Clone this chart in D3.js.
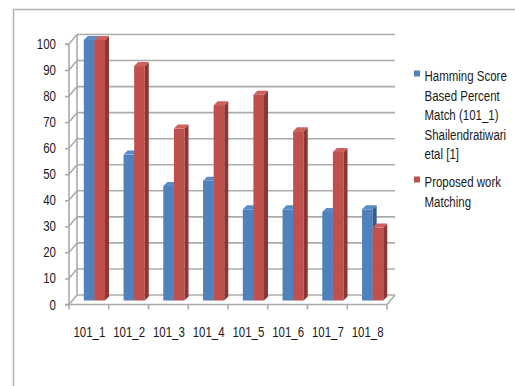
<!DOCTYPE html>
<html><head><meta charset="utf-8">
<script src="https://cdn.jsdelivr.net/npm/d3@7/dist/d3.min.js"></script>
<style>
html,body{margin:0;padding:0;background:#fff;}
svg{display:block;}
text{font-family:"Liberation Sans",Arial,sans-serif;fill:#1a1a1a;font-size:14px;}
</style></head>
<body>
<script>
const categories = ["101_1","101_2","101_3","101_4","101_5","101_6","101_7","101_8"];
const hammingValues = [100,56,44,46,35,35,34,35];
const proposedValues = [100,90,66,75,79,65,57,28];
const yTicks = [0,10,20,30,40,50,60,70,80,90,100];
const legendLabels = [
  ["Hamming Score","Based Percent","Match (101_1)","Shailendratiwari","etal [1]"],
  ["Proposed work","Matching"]
];

const W = 515, H = 386;
const SX = 0.82; // narrow text
const svg = d3.select("body").append("svg").attr("width", W).attr("height", H);

function narrowText(sel, tx, ty, anchor, str) {
  return sel.append("text")
    .attr("transform", `translate(${tx},${ty}) scale(${SX},1)`)
    .attr("text-anchor", anchor).text(str);
}

// chart area border
svg.append("path").attr("d", `M13.5,${H}V9.5H${W}`).attr("fill","none").attr("stroke","#b4b4b4").attr("stroke-width",1.5);

const x = d3.scaleBand().domain(categories).range([69, 387]).paddingInner(0).paddingOuter(0);
const y = d3.scaleLinear().domain([0,100]).range([304.5, 44]);
const DX = 8, DY = -9.5;          // wall depth
const BX = 4, BY = -4;            // bar plane offset (mid depth)
const bd = 4;                     // bar depth

const grid = svg.append("g").attr("stroke","#ababab").attr("stroke-width",1.6).attr("fill","none");
yTicks.forEach(t => {
  grid.append("line").attr("x1", 69+DX).attr("x2", 387+DX).attr("y1", y(t)+DY).attr("y2", y(t)+DY);
  grid.append("line").attr("x1", 69).attr("x2", 69+DX).attr("y1", y(t)).attr("y2", y(t)+DY);
});
grid.append("line").attr("x1", 69+DX).attr("x2", 69+DX).attr("y1", y(0)+DY).attr("y2", y(100)+DY);
grid.append("path").attr("d", `M69,${y(0)}H387L${387+DX},${y(0)+DY}`);

// y axis (front)
const yAxis = d3.axisLeft(y).tickValues(yTicks).tickSize(4).tickFormat(() => "");
const ya = svg.append("g").attr("transform","translate(69,0)").call(yAxis);
ya.select(".domain").attr("stroke","#ababab").attr("stroke-width",1.6).attr("d", `M-4,${y(100)}H0V${y(0)}H-4`);
ya.selectAll(".tick line").attr("stroke","#ababab").attr("stroke-width",1.6);
const yl = svg.append("g");
yTicks.forEach(t => narrowText(yl, 56, y(t) + 5, "end", d3.format("d")(t)));

// x axis ticks and labels
const xg = svg.append("g");
const xticks = categories.map(c => x(c)).concat([387]);
xg.selectAll("line").data(xticks).join("line")
  .attr("x1", d=>d).attr("x2", d=>d).attr("y1", y(0)).attr("y2", y(0)+5)
  .attr("stroke","#ababab").attr("stroke-width",1.6);
categories.forEach(c => narrowText(xg, x(c) + x.bandwidth()/2 + 0.5, 337, "middle", c));

// bars
const bw = 10.6, off = 10.8;
const series = [
  {vals: hammingValues, front:"#4f81bd", top:"#5b8bc6", side:"#335d91", shift:0},
  {vals: proposedValues, front:"#c0504d", top:"#cc615d", side:"#8d3532", shift:bw}
];
const bars = svg.append("g");
categories.forEach((c,i) => {
  series.forEach(s => {
    const v = s.vals[i];
    const x0 = x(c) + BX + off + s.shift, x1 = x0 + bw;
    const yb = y(0) + BY, yt = y(v) + BY;
    const g = bars.append("g");
    g.append("rect").attr("x", x0).attr("y", yt).attr("width", bw).attr("height", yb-yt).attr("fill", s.front);
    g.append("path").attr("d", `M${x1},${yt}L${x1+bd},${yt-bd}V${yb-bd}L${x1},${yb}Z`).attr("fill", s.side);
    g.append("path").attr("d", `M${x0},${yt}L${x0+bd},${yt-bd}H${x1+bd}L${x1},${yt}Z`).attr("fill", s.top);
  });
});

// legend
const lg = svg.append("g");
const legendColors = ["#4f81bd","#c0504d"];
const legendBase = [81, 187];
legendLabels.forEach((lines, k) => {
  lg.append("rect").attr("x", 414).attr("y", legendBase[k]-10.5).attr("width", 6).attr("height", 6).attr("fill", legendColors[k]);
  lines.forEach((t, j) => narrowText(lg, 424.5, legendBase[k] + j*19.6, "start", t));
});
</script>
</body></html>
